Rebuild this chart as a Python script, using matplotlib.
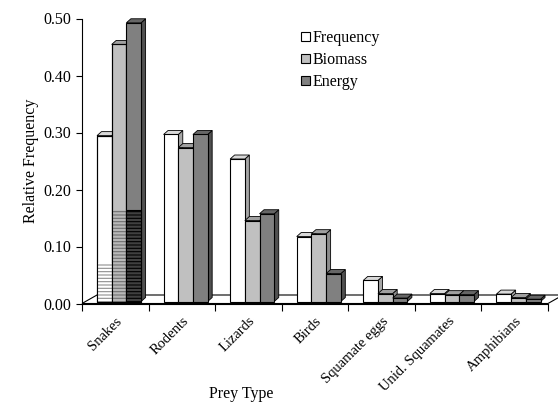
import matplotlib
matplotlib.use("Agg")
import matplotlib.pyplot as plt
from matplotlib.patches import Polygon, Patch

# ---- data -------------------------------------------------------------
categories = ["Snakes", "Rodents", "Lizards", "Birds", "Squamate eggs",
              "Unid. Squamates", "Amphibians"]
frequency = [0.291, 0.293, 0.250, 0.114, 0.037, 0.014, 0.013]
biomass = [0.451, 0.270, 0.142, 0.119, 0.014, 0.012, 0.007]
energy = [0.489, 0.293, 0.154, 0.049, 0.006, 0.012, 0.004]
# lower (hatched) share of the Snakes bars
snakes_sub = [0.067, 0.160, 0.160]
series_names = ["Frequency", "Biomass", "Energy"]
yticks = [0.0, 0.1, 0.2, 0.3, 0.4, 0.5]
ytick_labels = ["0.00", "0.10", "0.20", "0.30", "0.40", "0.50"]

# ---- styling ----------------------------------------------------------
plt.rcParams["font.family"] = ["Liberation Serif", "DejaVu Serif"]
plt.rcParams["hatch.linewidth"] = 0.8
FS = 11.5
FS_X = 10.5

front_col = ["#ffffff", "#c0c0c0", "#808080"]
side_col = ["#a6a6a6", "#8c8c8c", "#505050"]
top_col = ["#d9d9d9", "#a0a0a0", "#666666"]
hatch_face = ["#ffffff", "#b8b8b8", "#404040"]
hatch_line = ["#8e8e8e", "#707070", "#000000"]

W, H = 558, 403
fig = plt.figure(figsize=(W / 100, H / 100), dpi=100)
ax_l, ax_r, ax_t, ax_b = 82, 548, 18.5, 303.5
ax = fig.add_axes([ax_l / W, (H - ax_b) / H, (ax_r - ax_l) / W, (ax_b - ax_t) / H])
ax.set_xlim(0, 7)
ax.set_ylim(0, 0.5)

px_x = (ax_r - ax_l) / 7.0      # pixels per category
px_y = (ax_b - ax_t) / 0.5      # pixels per value unit

def dx(p):
    return p / px_x

def dy(p):
    return p / px_y

# floor of the 3-D plot
fdx, fdy = dx(15), dy(8.5)
floor = Polygon([(0, 0), (7, 0), (7 + fdx, fdy), (fdx, fdy)], closed=True,
                facecolor="white", edgecolor="black", linewidth=0.8,
                clip_on=False, zorder=1)
ax.add_patch(floor)

# ---- 3-D columns ------------------------------------------------------
bar_w = dx(14.7)
grp_off = dx(15.0)
base = dy(2.0)
ddx, ddy = dx(4.5), dy(4.0)
series = [frequency, biomass, energy]

z = 2.0
for i in range(len(categories)):
    for j, vals in enumerate(series):
        x0 = i + grp_off + j * bar_w
        h = vals[i]
        b = base
        side = Polygon([(x0 + bar_w, b), (x0 + bar_w + ddx, b + ddy),
                        (x0 + bar_w + ddx, b + h + ddy), (x0 + bar_w, b + h)],
                       closed=True, facecolor=side_col[j], edgecolor="black",
                       linewidth=0.6, clip_on=False, zorder=z)
        top = Polygon([(x0, b + h), (x0 + bar_w, b + h),
                       (x0 + bar_w + ddx, b + h + ddy), (x0 + ddx, b + h + ddy)],
                      closed=True, facecolor=top_col[j], edgecolor="black",
                      linewidth=0.6, clip_on=False, zorder=z + 0.01)
        ax.add_patch(side)
        ax.add_patch(top)
        ax.bar(x0, h, width=bar_w, bottom=b, align="edge",
               color=front_col[j], edgecolor="black", linewidth=0.8,
               zorder=z + 0.02, clip_on=False)
        if i == 0:
            ax.bar(x0, snakes_sub[j], width=bar_w, bottom=b, align="edge",
                   color=hatch_face[j], edgecolor=hatch_line[j], linewidth=0,
                   hatch="-----", zorder=z + 0.03, clip_on=False)
            ax.bar(x0, snakes_sub[j] if j == 2 else h, width=bar_w, bottom=b,
                   align="edge", facecolor="none", edgecolor="black",
                   linewidth=0.8, zorder=z + 0.04, clip_on=False)
        z += 0.1

# ---- axes -------------------------------------------------------------
for s in ax.spines.values():
    s.set_visible(False)
ax.plot([0, 0], [0, 0.5], color="black", lw=0.8, clip_on=False, zorder=1.5)
ax.plot([0, 7], [0, 0], color="black", lw=0.8, clip_on=False, zorder=1.5)

ax.set_yticks(yticks)
ax.set_yticklabels(ytick_labels, fontsize=FS)
ax.tick_params(axis="y", direction="out", length=4, width=0.8, pad=4)

ax.set_xticks(range(0, 8))
ax.set_xticklabels([])
ax.tick_params(axis="x", which="major", direction="out", length=5, width=0.8)
ax.set_xticks([i + 0.5 for i in range(len(categories))], minor=True)
ax.set_xticklabels(categories, minor=True, rotation=45, ha="right",
                   va="top", rotation_mode="anchor", fontsize=FS_X)
ax.tick_params(axis="x", which="minor", length=0, pad=8)

ax.set_ylabel("Relative Frequency", fontsize=FS, labelpad=3)
fig.text(241 / W, (H - 394) / H, "Prey Type", fontsize=FS,
         ha="center", va="center")

handles = [Patch(facecolor=front_col[k], edgecolor="black", linewidth=0.8)
           for k in range(3)]
ax.legend(handles, series_names, loc="upper left",
          bbox_to_anchor=(301 / W, (H - 30) / H),
          bbox_transform=fig.transFigure, frameon=False, fontsize=FS,
          handlelength=0.55, handleheight=0.55, handletextpad=0.2,
          labelspacing=0.38, borderpad=0, borderaxespad=0)

fig.savefig("out.png", dpi=100)
